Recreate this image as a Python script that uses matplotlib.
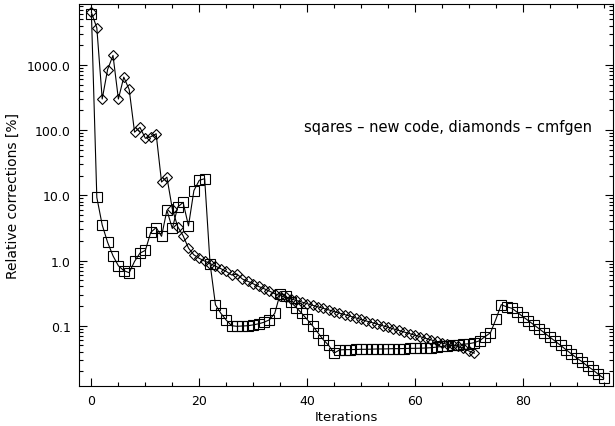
import numpy as np
import matplotlib
matplotlib.use("Agg")
import matplotlib.pyplot as plt
from matplotlib.ticker import FixedLocator, LogLocator, MultipleLocator, FuncFormatter

## squares - new code (iterations 0..95)
sq_corr = [6000, 9.3, 3.5, 1.9, 1.18, 0.83, 0.70, 0.65, 0.97, 1.3,
           1.43, 2.7, 3.2, 2.35, 5.9, 3.1, 6.6, 7.8, 3.4, 11.8,
           17.0, 18.0, 0.9, 0.21, 0.155, 0.122, 0.100, 0.098, 0.099, 0.100,
           0.103, 0.107, 0.113, 0.123, 0.155, 0.31, 0.29, 0.23, 0.19, 0.155,
           0.125, 0.100, 0.078, 0.061, 0.050, 0.038, 0.0425, 0.043, 0.043, 0.0432,
           0.0435, 0.0435, 0.0437, 0.044, 0.044, 0.0442, 0.0445, 0.0445, 0.0447, 0.045,
           0.045, 0.0452, 0.0455, 0.046, 0.047, 0.048, 0.049, 0.050, 0.050, 0.052,
           0.053, 0.055, 0.059, 0.068, 0.078, 0.125, 0.21, 0.195, 0.185, 0.160,
           0.138, 0.120, 0.104, 0.090, 0.078, 0.067, 0.058, 0.050, 0.043, 0.037,
           0.032, 0.028, 0.024, 0.021, 0.018, 0.0157]

## diamonds - cmfgen (iterations 0..71)
dia_corr = [6400, 3700, 300, 850, 1400, 300, 650, 420, 93, 110,
            75, 79, 88, 16.0, 19.0, 6.2, 3.3, 2.4, 1.55, 1.22,
            1.08, 0.98, 0.90, 0.82, 0.75, 0.68, 0.60, 0.62, 0.52, 0.48,
            0.44, 0.40, 0.37, 0.34, 0.31, 0.29, 0.273, 0.258, 0.244, 0.231,
            0.218, 0.206, 0.195, 0.185, 0.175, 0.165, 0.156, 0.148, 0.140, 0.132,
            0.125, 0.118, 0.112, 0.106, 0.100, 0.095, 0.0895, 0.0847, 0.080, 0.0757,
            0.0716, 0.0678, 0.0641, 0.0606, 0.0573, 0.0542, 0.052, 0.050, 0.048, 0.045,
            0.041, 0.038]

sq_iter = np.arange(len(sq_corr))
dia_iter = np.arange(len(dia_corr))

ytick_vals = [0.1, 1.0, 10.0, 100.0, 1000.0]

fig = plt.figure(figsize=(6.15, 4.27), dpi=100)
ax = fig.add_axes([0.1285, 0.0937, 0.868, 0.8946])

ax.plot(sq_iter, sq_corr, 's-', color='black', lw=0.8, markersize=7,
        mfc='none', mec='black', mew=0.8)
ax.plot(dia_iter, dia_corr, 'D-', color='black', lw=0.8, markersize=5.5,
        mfc='none', mec='black', mew=0.8)

ax.set_yscale('log')
ax.set_xlim(-2.3, 96.7)
ax.set_ylim(0.0119, 8600)

ax.xaxis.set_major_locator(MultipleLocator(20))
ax.xaxis.set_minor_locator(MultipleLocator(5))
ax.yaxis.set_major_locator(FixedLocator(ytick_vals))
ax.yaxis.set_minor_locator(LogLocator(base=10, subs=np.arange(2, 10)))
ax.yaxis.set_major_formatter(FuncFormatter(lambda v, p: "%.1f" % v))
ax.yaxis.set_minor_formatter(FuncFormatter(lambda v, p: ""))

ax.tick_params(which='both', direction='in', top=True, right=True,
               labelsize=9, width=0.8, pad=6)
ax.tick_params(which='major', length=6)
ax.tick_params(which='minor', length=3)
for s in ax.spines.values():
    s.set_linewidth(0.8)

ax.set_xlabel("Iterations", fontsize=9.5, labelpad=2)
ax.set_ylabel("Relative corrections [%]", fontsize=10, labelpad=5)

ax.text(39.5, 114, "sqares \u2013 new code, diamonds \u2013 cmfgen",
        fontsize=10.5, va='center', ha='left')

fig.savefig("out.png", dpi=100)
